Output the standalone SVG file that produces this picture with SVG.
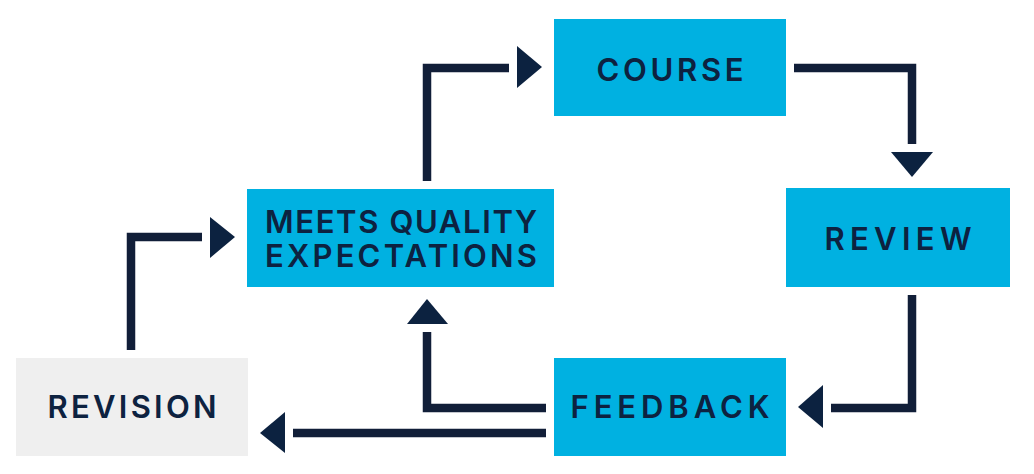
<svg xmlns="http://www.w3.org/2000/svg" width="1034" height="474" viewBox="0 0 1034 474">
<style>
.box{fill:#00b1e1}
.grey{fill:#efefef}
.lbl{font-family:Inter,Lato,"Liberation Sans",sans-serif;font-weight:600;font-size:31px;fill:#0d2240;text-anchor:middle}
.ln{fill:none;stroke:#111e38;stroke-width:8.5;stroke-linejoin:miter;stroke-linecap:butt}
.ah{fill:#0c2240}
</style>
<rect width="1034" height="474" fill="#ffffff"/>
<g id="course"><rect class="box" x="554" y="19" width="232" height="97"/><text class="lbl" x="670" y="81" textLength="147" lengthAdjust="spacing">COURSE</text></g>
<g id="review"><rect class="box" x="786" y="188" width="224" height="99"/><text class="lbl" x="898" y="250" textLength="147" lengthAdjust="spacing">REVIEW</text></g>
<g id="meets"><rect class="box" x="247" y="189" width="307" height="98"/><text class="lbl"><tspan x="401" y="233" textLength="272" lengthAdjust="spacing">MEETS QUALITY</tspan><tspan x="401" y="267" textLength="272" lengthAdjust="spacing">EXPECTATIONS</tspan></text></g>
<g id="feedback"><rect class="box" x="554" y="358" width="232" height="98"/><text class="lbl" x="670" y="418" textLength="199" lengthAdjust="spacing">FEEDBACK</text></g>
<g id="revision"><rect class="grey" x="16" y="358" width="232" height="98"/><text class="lbl" x="132" y="418" textLength="169" lengthAdjust="spacing">REVISION</text></g>
<g id="connectors">
<polyline class="ln" points="427,181 427,68 509,68"/>
<polygon class="ah" points="517,46 542,67 517,88"/>
<polyline class="ln" points="794,68 912,68 912,144"/>
<polygon class="ah" points="891,152 933,152 912,177"/>
<polyline class="ln" points="912,295 912,408 831,408"/>
<polygon class="ah" points="823,385 823,428 798,407"/>
<polyline class="ln" points="546,408 427,408 427,332"/>
<polygon class="ah" points="407,324 448,324 427,299"/>
<line class="ln" x1="546" y1="433" x2="293" y2="433"/>
<polygon class="ah" points="285,412 285,453 260,433"/>
<polyline class="ln" points="131,350 131,237 202,237"/>
<polygon class="ah" points="210,217 235,237 210,258"/>
</g>
</svg>
